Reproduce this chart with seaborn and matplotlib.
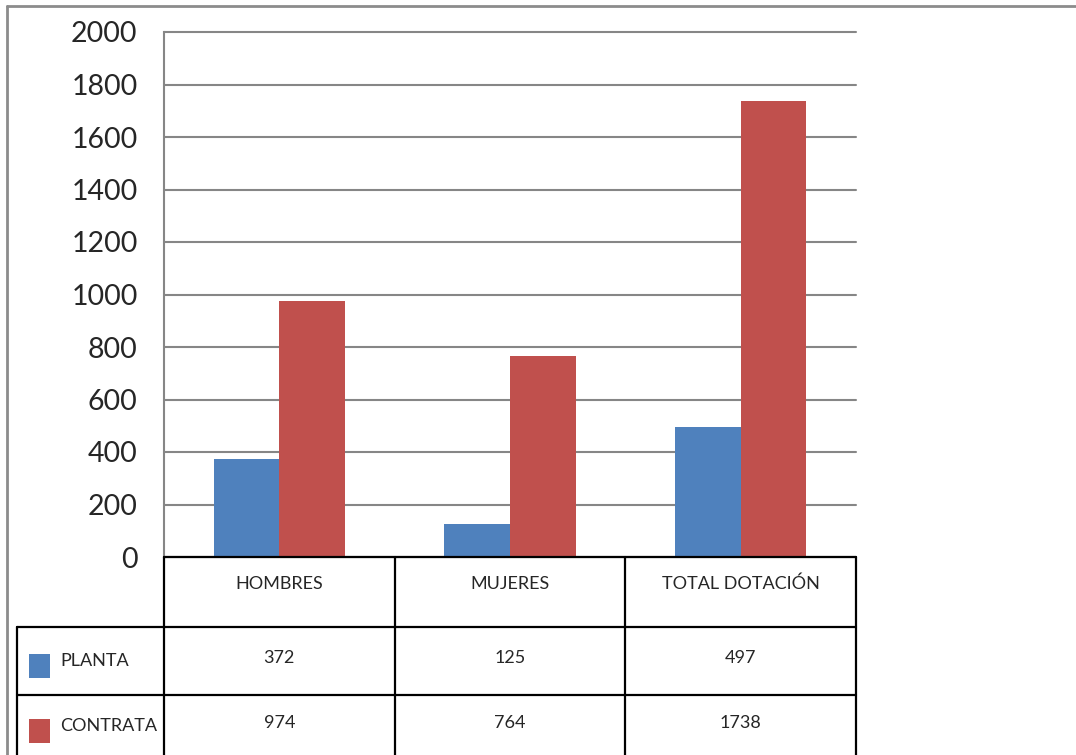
import matplotlib
matplotlib.use("Agg")
import matplotlib.pyplot as plt
import matplotlib.transforms as mtransforms
from matplotlib.lines import Line2D
from matplotlib.patches import Rectangle
import seaborn as sns
import pandas as pd

# datos del gráfico
categorias = ["HOMBRES", "MUJERES", "TOTAL DOTACIÓN"]
series = ["PLANTA", "CONTRATA"]
planta = [372, 125, 497]
contrata = [974, 764, 1738]
colores = ["#4F81BD", "#C0504D"]
yticks = [0, 200, 400, 600, 800, 1000, 1200, 1400, 1600, 1800, 2000]

W, H = 1076, 755
GRIS = "#868686"

sns.set_style("white")
plt.rcParams["font.family"] = ["Lato", "DejaVu Sans"]

df = pd.DataFrame({
    "categoria": categorias * 2,
    "serie": [series[0]] * 3 + [series[1]] * 3,
    "valor": planta + contrata,
})

fig = plt.figure(figsize=(W / 100, H / 100), dpi=100)
ax = fig.add_axes([164 / W, 1 - 557 / H, (856 - 164) / W, (557 - 32) / H])

sns.barplot(data=df, x="categoria", y="valor", hue="serie", palette=colores,
            width=0.57, saturation=1, linewidth=0, legend=False, ax=ax)

ax.set_xlim(-0.5, 2.5)
ax.set_ylim(0, 2000)
ax.set_yticks(yticks)
ax.set_xticks([])
ax.set_xlabel("")
ax.set_ylabel("")
ax.tick_params(axis="y", length=9, width=1.5, color=GRIS, labelsize=20.5, pad=10)
ax.yaxis.grid(True, color=GRIS, lw=1.5)
for gl in ax.get_ygridlines():
    gl.set_clip_on(False)
ax.set_axisbelow(True)
for s in ["top", "right", "bottom"]:
    ax.spines[s].set_visible(False)
ax.spines["left"].set_color(GRIS)
ax.spines["left"].set_linewidth(1.5)


def fy(y):
    return 1 - y / H


def linea(xs, ys, trans, color="black", lw=1.6):
    fig.add_artist(Line2D(xs, ys, transform=trans, color=color, lw=lw,
                          clip_on=False, zorder=10))


# tabla de datos bajo el gráfico
mix = mtransforms.blended_transform_factory(ax.transData, fig.transFigure)
ff = fig.transFigure

linea([-0.5, 2.5], [fy(557), fy(557)], mix)
for y in [627, 695]:
    linea([17 / W, 856 / W], [fy(y), fy(y)], ff)
linea([17 / W, 17 / W], [fy(627), 0], ff)
for xb in [-0.5, 0.5, 1.5, 2.5]:
    linea([xb, xb], [fy(557), 0], mix)

# marco exterior
linea([7 / W, 1], [fy(6), fy(6)], ff, color="#8c8c8c", lw=2)
linea([7 / W, 7 / W], [fy(6), 0], ff, color="#8c8c8c", lw=2)

fs = 13
for i, cat in enumerate(categorias):
    fig.text(i, fy(584), cat, transform=mix, ha="center", va="center", fontsize=fs)
    fig.text(i, fy(658), str(planta[i]), transform=mix, ha="center", va="center", fontsize=fs)
    fig.text(i, fy(723), str(contrata[i]), transform=mix, ha="center", va="center", fontsize=fs)

for nombre, color, yc in [(series[0], colores[0], 666), (series[1], colores[1], 731)]:
    fig.add_artist(Rectangle((29 / W, fy(yc + 12)), 21 / W, 24 / H, transform=ff,
                             facecolor=color, edgecolor="none"))
    fig.text(60 / W, fy(yc - 5), nombre, transform=ff, ha="left", va="center", fontsize=fs)

fig.savefig("out.png", dpi=100)
